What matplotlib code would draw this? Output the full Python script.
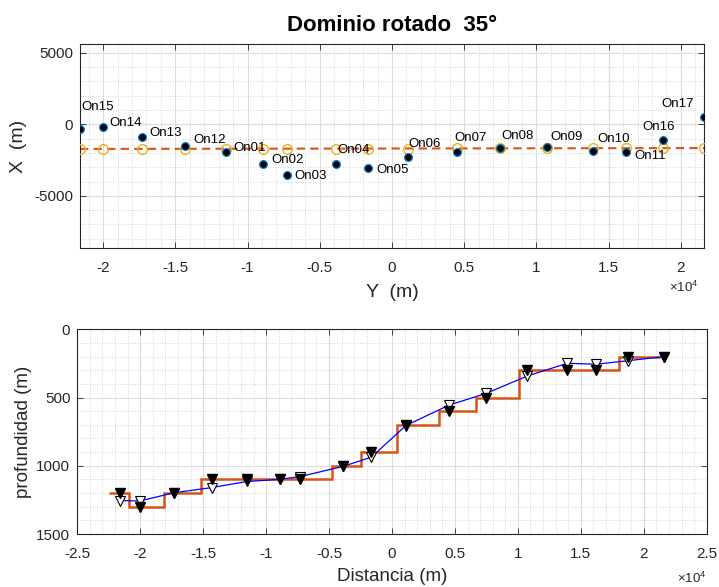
import numpy as np
import matplotlib
matplotlib.use("Agg")
import matplotlib.pyplot as plt
from matplotlib.ticker import MultipleLocator, FixedLocator, FuncFormatter

plt.rcParams["font.family"] = ["Liberation Sans", "DejaVu Sans"]
plt.rcParams["mathtext.fontset"] = "custom"
plt.rcParams["mathtext.rm"] = "Liberation Sans"

# Stations, ordered along the rotated Y axis
names = ["On15", "On14", "On13", "On12", "On01", "On02", "On03", "On04", "On05",
         "On06", "On07", "On08", "On09", "On10", "On11", "On16", "On17"]
coord_y = [-21600, -20030, -17330, -14330, -11500, -8930, -7290, -3900, -1640,
           1110, 4520, 7460, 10760, 13920, 16230, 18750, 21600]
coord_x = [-350, -190, -910, -1500, -1960, -2750, -3520, -2780, -3080,
           -2260, -1910, -1630, -1610, -1870, -1940, -1120, 490]
# Stations projected onto the profile line
proj_x = [-1720, -1720, -1715, -1710, -1705, -1700, -1700, -1695, -1690,
          -1690, -1685, -1680, -1675, -1670, -1670, -1665, -1660]

# Depths along the profile
depth_obs = [1200, 1300, 1200, 1100, 1100, 1100, 1100, 1000, 900,
             700, 600, 500, 300, 300, 300, 200, 200]
depth_smooth = [1255, 1258, 1198, 1160, 1115, 1100, 1079, 1005, 937,
                705, 556, 470, 342, 249, 256, 230, 200]
# Layered model (edges and depth of each block)
step_edges = [-22500, -20900, -18150, -15200, -4750, -2440, 400, 3750, 6680,
              10050, 18050, 21300]
step_depth = [1200, 1300, 1200, 1100, 1000, 900, 700, 600, 500, 300, 200]

label_offsets = [(1, 22), (7, 4), (8, 4), (8, 6), (7, 4), (8, 4), (8, -1), (2, 14),
                 (8, -2), (0, 13), (-3, 14), (2, 12), (3, 10), (4, 12), (8, -4),
                 (-20, 13), (-43, 13)]

AX_COLOR = "#262626"
W, H = 719, 587

fig = plt.figure(figsize=(W / 100, H / 100), dpi=100)
ax1 = fig.add_axes([80 / W, 1 - 248 / H, 624 / W, 204 / H])
ax2 = fig.add_axes([77.3 / W, 1 - 534 / H, 629.4 / W, 204.7 / H])


def style_axes(ax):
    ax.grid(True, which="major", color="#dcdcdc", linewidth=0.8, linestyle="-")
    ax.grid(True, which="minor", color="#c4c4c4", linewidth=0.6, linestyle=(0, (1, 2)))
    ax.set_axisbelow(True)
    ax.tick_params(which="major", direction="in", length=4, width=0.6,
                   top=True, right=True, colors=AX_COLOR, labelsize=11)
    ax.tick_params(which="minor", length=0, top=True, right=True)
    ax.tick_params(axis="x", pad=9)
    ax.tick_params(axis="y", pad=5)
    for s in ax.spines.values():
        s.set_color(AX_COLOR)
        s.set_linewidth(0.8)


fmt_e4 = FuncFormatter(lambda v, p: f"{v / 1e4:g}")
fmt_plain = FuncFormatter(lambda v, p: f"{v:g}")

# ---- Plan view of the rotated domain ----
ax1.plot([coord_y[0], coord_y[-1]], [proj_x[0], proj_x[-1]], linestyle=(0, (4, 2.5)),
         color="#D95319", linewidth=1.5, zorder=2)
ax1.plot(coord_y, proj_x, linestyle="none", marker="o", markersize=7,
         markerfacecolor="none", markeredgecolor="#EDB120", markeredgewidth=1.0, zorder=3)
ax1.plot(coord_y, coord_x, linestyle="none", marker="o", markersize=5.5,
         markerfacecolor="black", markeredgecolor="#0072BD", markeredgewidth=0.9, zorder=4)
for name, yy, xx, (dx, dy) in zip(names, coord_y, coord_x, label_offsets):
    ax1.annotate(name, (yy, xx), xytext=(dx, dy), textcoords="offset pixels",
                 ha="left", va="center", fontsize=9.5, color="black", zorder=5)

ax1.set_xlim(min(coord_y), max(coord_y))
ax1.set_ylim(-8650, 5620)
ax1.xaxis.set_major_locator(MultipleLocator(5000))
ax1.xaxis.set_minor_locator(MultipleLocator(1000))
ax1.yaxis.set_major_locator(FixedLocator([-5000, 0, 5000]))
ax1.yaxis.set_minor_locator(MultipleLocator(1000))
ax1.xaxis.set_major_formatter(fmt_e4)
ax1.yaxis.set_major_formatter(fmt_plain)
style_axes(ax1)
ax1.set_xlabel("Y  (m)", fontsize=14, color=AX_COLOR, va="top")
ax1.xaxis.set_label_coords(0.5, -0.175)
ax1.set_ylabel("X  (m)", fontsize=14, color=AX_COLOR)
ax1.yaxis.set_label_coords(-0.085, 0.5)

fig.text(392 / W, 1 - 31 / H, "Dominio rotado  35°", ha="center", va="baseline",
         fontsize=16, fontweight="bold", color="black")
fig.text(698 / W, 1 - 292 / H, r"$\mathregular{\times10^{4}}$", ha="right",
         va="baseline", fontsize=9.5, color=AX_COLOR)

# ---- Depth profile ----
ax2.stairs(step_depth, step_edges, baseline=None, color="#D95319", linewidth=1.8, zorder=2)
ax2.plot(coord_y, depth_smooth, color="#0000FF", linewidth=0.9, zorder=3)
ax2.plot(coord_y, depth_smooth, linestyle="none", marker="v", markersize=7.5,
         markerfacecolor="white", markeredgecolor="black", markeredgewidth=0.8, zorder=4)
ax2.plot(coord_y, depth_obs, linestyle="none", marker="v", markersize=7.5,
         markerfacecolor="black", markeredgecolor="black", zorder=5)

ax2.set_xlim(-25000, 25000)
ax2.set_ylim(1500, 0)
ax2.xaxis.set_major_locator(MultipleLocator(5000))
ax2.xaxis.set_minor_locator(MultipleLocator(1000))
ax2.yaxis.set_major_locator(MultipleLocator(500))
ax2.yaxis.set_minor_locator(MultipleLocator(100))
ax2.xaxis.set_major_formatter(fmt_e4)
ax2.yaxis.set_major_formatter(fmt_plain)
style_axes(ax2)
ax2.set_xlabel("Distancia (m)", fontsize=13.5, color=AX_COLOR, va="top")
ax2.xaxis.set_label_coords(0.5, -0.166)
ax2.set_ylabel("profundidad (m)", fontsize=13.5, color=AX_COLOR)
ax2.yaxis.set_label_coords(-0.072, 0.5)

fig.text(706 / W, 1 - 583 / H, r"$\mathregular{\times10^{4}}$", ha="right",
         va="baseline", fontsize=9.5, color=AX_COLOR)

fig.savefig("out.png", dpi=100)
